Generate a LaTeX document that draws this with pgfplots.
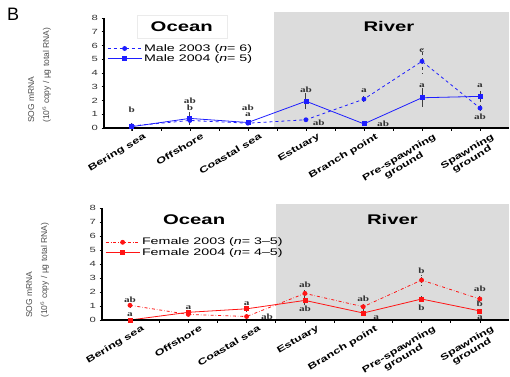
\documentclass[border=0pt]{standalone}
\usepackage{pgfplots}
\pgfplotsset{compat=1.18}
\usepackage{fontspec}
\setmainfont{Liberation Sans}[FakeStretch=1.5, ItalicFeatures={FakeStretch=1.5}]
\newfontfamily\bw{Liberation Sans Bold}[FakeStretch=1.45]
\newfontfamily\plainsans{Liberation Sans}
\newfontfamily\letterfont{Liberation Serif Bold}[FakeStretch=1.4]
\definecolor{riverbg}{RGB}{220,220,220}
\definecolor{myblue}{RGB}{30,30,255}
\definecolor{myred}{RGB}{255,20,20}

\pgfplotstableread{
x y e
0 0.15 0.1
1 0.55 0.3
2 0.35 0.15
3 0.60 0.1
4 2.10 0.3
5 4.85 0.9
6 1.45 0.2
}\maleA
\pgfplotstableread{
x y e
0 0.10 0.3
1 0.70 0.5
2 0.40 0.2
3 1.95 0.6
4 0.30 0.1
5 2.20 0.7
6 2.30 0.4
}\maleB
\pgfplotstableread{
x y e
0 1.05 0.2
1 0.40 0.1
2 0.25 0.1
3 1.90 0.3
4 0.95 0.2
5 2.85 0.4
6 1.50 0.3
}\femA
\pgfplotstableread{
x y e
0 0.00 0.05
1 0.55 0.2
2 0.80 0.2
3 1.40 0.3
4 0.50 0.2
5 1.50 0.2
6 0.65 0.15
}\femB

\tikzset{lt/.style={font=\letterfont\fontsize{8}{9}\selectfont, inner sep=0pt, text=black!80}}
\pgfplotsset{
  panel/.style={
    scale only axis, width=405pt, height=110pt,
    xmin=-0.48, xmax=6.5, ymin=0, ymax=8,
    axis x line*=bottom, axis y line*=left,
    axis line style={-, line width=1.1pt},
    axis on top, clip=false,
    xtick={0,...,6},
    minor xtick={0.5,1.5,2.5,3.5,4.5,5.5},
    xticklabels={Bering sea, Offshore, Coastal sea, Estuary, Branch point, {Pre-spawning\\ground}, {Spawning\\ground}},
    ytick={0,...,8},
    tick align=outside,
    major tick length=2.5pt, minor tick length=2.5pt,
    tick style={black, line width=0.6pt},
    /pgf/number format/assume math mode=true,
    y tick label style={font=\fontsize{7.5}{8}\selectfont, text=black!80},
    x tick label style={rotate=31, anchor=north east, align=center, xshift=12pt, yshift=-4pt,
       font=\bw\fontsize{8.8}{9}\selectfont},
    legend cell align=left,
    legend style={draw=none, fill=none, font=\fontsize{9.5}{11}\selectfont,
       row sep=-2pt, inner sep=1pt},
    legend image code/.code={\draw[mark repeat=2, mark phase=2] plot coordinates {(0pt,0pt) (17pt,0pt) (34pt,0pt)};},
    ebar/.style={error bars/.cd, y dir=both, y explicit, error mark=none,
       error bar style={black!75, line width=0.9pt}},
  },
}

\begin{document}
\begin{tikzpicture}
\path[use as bounding box] (-104pt,-248pt) rectangle (406pt,128pt);
\node[font=\plainsans\fontsize{18}{18}\selectfont, anchor=north west, inner sep=0pt] at (-97pt,120pt) {B};

% ---------- top panel ----------
\node[rotate=90, anchor=south west, align=left, inner sep=0pt, text=black!70,
      font=\plainsans\fontsize{8.5}{15}\selectfont] at (-53pt,5pt)
  {SOG mRNA\\(10$^6$ copy / µg total RNA)};
\begin{axis}[panel, at={(0pt,0pt)}, anchor=south west,
   legend style={at={(rel axis cs:0.005,0.79)}, anchor=north west}]
  \fill[riverbg] (axis cs:2.45,0) rectangle (axis cs:6.5,8.42);
  \node[draw=black!8, fill=white, minimum width=90pt, minimum height=23pt,
        font=\bw\fontsize{14}{14}\selectfont] at (axis cs:0.86,7.4) {Ocean};
  \node[font=\bw\fontsize{14}{14}\selectfont] at (axis cs:4.43,7.4) {River};
  \addplot[myblue, dashed, line width=0.8pt, mark=*, mark size=2pt,
     mark options={solid}, ebar] table[x=x, y=y, y error=e] {\maleA};
  \addlegendentry{Male 2003 (\textit{n}= 6)}
  \addplot[myblue, line width=0.8pt, mark=square*, mark size=2pt, ebar]
     table[x=x, y=y, y error=e] {\maleB};
  \addlegendentry{Male 2004 (\textit{n}= 5)}
  % significance letters
  \node[lt] at (axis cs:0,1.3) {b};
  \node[lt] at (axis cs:1,2.0) {ab};
  \node[lt] at (axis cs:1,1.45) {b};
  \node[lt] at (axis cs:2,1.45) {ab};
  \node[lt] at (axis cs:2,0.95) {a};
  \node[lt] at (axis cs:3,2.75) {ab};
  \node[lt] at (axis cs:3.22,0.35) {ab};
  \node[lt] at (axis cs:4,2.75) {a};
  \node[lt] at (axis cs:4.33,0.3) {ab};
  \node[lt] at (axis cs:5,5.6) {c};
  \node[lt] at (axis cs:5,3.05) {a};
  \node[lt] at (axis cs:6,3.05) {a};
  \node[lt] at (axis cs:6,0.85) {ab};
\end{axis}

% ---------- bottom panel ----------
\node[rotate=90, anchor=south west, align=left, inner sep=0pt, text=black!70,
      font=\plainsans\fontsize{8.5}{15}\selectfont] at (-55pt,-190pt)
  {SOG mRNA\\(10$^6$ copy / µg total RNA)};
\begin{axis}[panel, height=112pt, width=407pt, at={(-2pt,-192pt)}, anchor=south west,
   legend style={at={(rel axis cs:0.005,0.76)}, anchor=north west}]
  \fill[riverbg] (axis cs:2.5,0) rectangle (axis cs:6.5,8.3);
  \node[font=\bw\fontsize{14}{14}\selectfont] at (axis cs:1.1,7.2) {Ocean};
  \node[font=\bw\fontsize{14}{14}\selectfont] at (axis cs:4.5,7.2) {River};
  \addplot[myred, dash dot, line width=0.8pt, mark=*, mark size=2pt,
     mark options={solid}, ebar] table[x=x, y=y, y error=e] {\femA};
  \addlegendentry{Female 2003 (\textit{n}= 3--5)}
  \addplot[myred, line width=0.8pt, mark=square*, mark size=2pt, ebar]
     table[x=x, y=y, y error=e] {\femB};
  \addlegendentry{Female 2004 (\textit{n}= 4--5)}
  \node[lt] at (axis cs:0,1.45) {ab};
  \node[lt] at (axis cs:0,0.35) {a};
  \node[lt] at (axis cs:1,0.9) {a};
  \node[lt] at (axis cs:2,1.15) {a};
  \node[lt] at (axis cs:2.35,0.2) {ab};
  \node[lt] at (axis cs:3,2.5) {ab};
  \node[lt] at (axis cs:3,0.8) {ab};
  \node[lt] at (axis cs:4,1.5) {ab};
  \node[lt] at (axis cs:4.22,0.15) {a};
  \node[lt] at (axis cs:5,3.55) {b};
  \node[lt] at (axis cs:5,0.85) {b};
  \node[lt] at (axis cs:6,2.2) {ab};
  \node[lt] at (axis cs:6,1.15) {b};
  \node[lt] at (axis cs:6,0.2) {a};
\end{axis}
\end{tikzpicture}
\end{document}
